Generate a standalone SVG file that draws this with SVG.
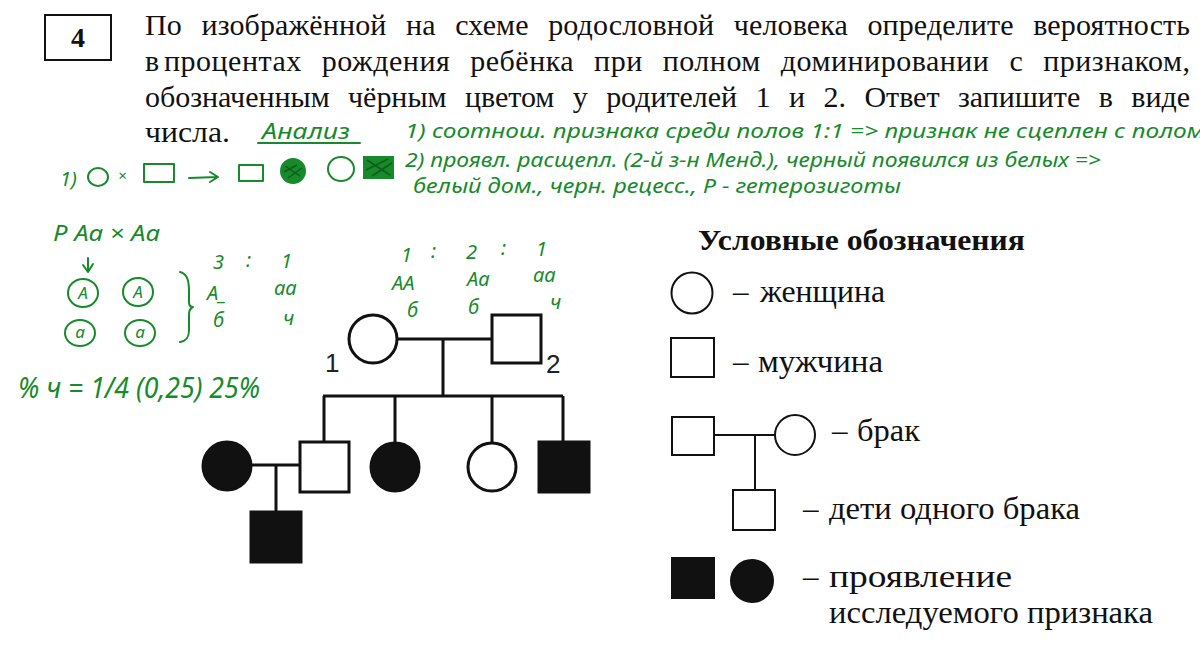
<svg xmlns="http://www.w3.org/2000/svg" width="1200" height="651" viewBox="0 0 1200 651">
<defs>
<style>
.q{font-family:"Liberation Serif","Times New Roman",serif;font-size:30px;fill:#111}
.lg{font-family:"Liberation Serif","Times New Roman",serif;font-size:31px;fill:#111}
.hw{font-family:"Noto Sans","Open Sans",sans-serif;font-style:italic;fill:#178a2c}
.s{font-size:20px}
.g{fill:none;stroke:#178a2c;stroke-width:2;stroke-linecap:round;stroke-linejoin:round}
.gf{fill:#178a2c;stroke:#178a2c;stroke-width:2}
.ped{stroke:#111;stroke-width:3;fill:#fff}
.pedf{stroke:#111;stroke-width:3;fill:#111}
.ln{stroke:#111;stroke-width:3;fill:none}
.leg{stroke:#111;stroke-width:2;fill:#fff}
.legf{stroke:#111;stroke-width:2;fill:#111}
.lgl{stroke:#111;stroke-width:2;fill:none}
.num{font-family:"Liberation Sans",Arial,sans-serif;font-size:26px;fill:#222}
</style>
</defs>
<rect width="1200" height="651" fill="#fff"/>

<g id="header">
<rect x="45" y="15" width="66" height="45" fill="#fff" stroke="#111" stroke-width="2"/>
<text x="78" y="47" text-anchor="middle" style="font-family:'Liberation Serif',serif;font-size:28px;font-weight:bold;fill:#111">4</text>
<text class="q" x="145" y="35" word-spacing="12" textLength="1045" lengthAdjust="spacing">По изображённой на схеме родословной человека определите вероятность</text>
<text class="q" x="145" y="71">в</text>
<text class="q" x="164" y="71" word-spacing="12" textLength="1026" lengthAdjust="spacing">процентах рождения ребёнка при полном доминировании с признаком,</text>
<text class="q" x="145" y="107" word-spacing="11" textLength="1045" lengthAdjust="spacing">обозначенным чёрным цветом у родителей 1 и 2. Ответ запишите в виде</text>
<text class="q" x="145" y="142" textLength="85" lengthAdjust="spacingAndGlyphs">числа.</text>
</g>

<g id="notes">
<text class="hw" x="262" y="139" font-size="21" textLength="88" lengthAdjust="spacingAndGlyphs">Анализ</text>
<path class="g" d="M258,143 L360,143"/>
<text class="hw" x="405" y="138" font-size="20" textLength="800" lengthAdjust="spacingAndGlyphs">1) соотнош. признака среди полов 1:1 =&gt; признак не сцеплен с полом</text>
<text class="hw" x="405" y="167" font-size="20" textLength="696" lengthAdjust="spacingAndGlyphs">2) проявл. расщепл. (2-й з-н Менд.), черный появился из белых =&gt;</text>
<text class="hw" x="413" y="193" font-size="20" textLength="488" lengthAdjust="spacingAndGlyphs">белый дом., черн. рецесс., Р - гетерозиготы</text>

<text class="hw" x="60" y="186" font-size="20">1)</text>
<ellipse class="g" cx="98" cy="177" rx="10" ry="9"/>
<text class="hw" x="118" y="181" font-size="15">×</text>
<rect class="g" x="144" y="164" width="30" height="18"/>
<path class="g" d="M189,178 L217,177 M210,172 L218,177 L210,182"/>
<rect class="g" x="239" y="165" width="24" height="16"/>
<circle class="gf" cx="293" cy="171" r="12"/>
<path d="M285,166 L300,176 M284,172 L297,165 M288,178 L302,168" stroke="#0c5e1a" stroke-width="1.5" fill="none"/>
<ellipse class="g" cx="341" cy="169" rx="13" ry="12"/>
<rect class="gf" x="364" y="157" width="29" height="21"/>
<path d="M367,160 L390,175 M366,170 L388,159 M372,176 L392,163" stroke="#0c5e1a" stroke-width="1.5" fill="none"/>

<text class="hw" x="53" y="241" font-size="21" textLength="107" lengthAdjust="spacingAndGlyphs">P Aa × Aa</text>
<path class="g" d="M88,258 L88,272 M83,265 L88,272 L93,264"/>
<ellipse class="g" cx="83" cy="293" rx="15" ry="14"/>
<ellipse class="g" cx="138" cy="292" rx="15" ry="14"/>
<ellipse class="g" cx="80" cy="333" rx="15" ry="13"/>
<ellipse class="g" cx="140" cy="333" rx="15" ry="13"/>
<text class="hw" x="83" y="299" font-size="17" text-anchor="middle">A</text>
<text class="hw" x="138" y="298" font-size="17" text-anchor="middle">A</text>
<text class="hw" x="80" y="338" font-size="17" text-anchor="middle">a</text>
<text class="hw" x="140" y="338" font-size="17" text-anchor="middle">a</text>
<path class="g" d="M180,272 C188,274 189,282 189,292 L189,302 C189,306 191,307 193,307 C191,308 189,310 189,314 L189,330 C189,338 186,341 180,342"/>

<text class="hw s" x="213" y="269">3</text>
<text class="hw s" x="246" y="267">:</text>
<text class="hw s" x="281" y="268">1</text>
<text class="hw s" x="207" y="300">А_</text>
<text class="hw s" x="274" y="295">aa</text>
<text class="hw s" x="213" y="327">б</text>
<text class="hw s" x="283" y="325">ч</text>

<text class="hw s" x="401" y="262">1</text>
<text class="hw s" x="431" y="258">:</text>
<text class="hw s" x="466" y="259">2</text>
<text class="hw s" x="501" y="255">:</text>
<text class="hw s" x="536" y="256">1</text>
<text class="hw s" x="392" y="290">AA</text>
<text class="hw s" x="467" y="286">Aa</text>
<text class="hw s" x="533" y="282">aa</text>
<text class="hw s" x="407" y="317">б</text>
<text class="hw s" x="468" y="314">б</text>
<text class="hw s" x="550" y="309">ч</text>

<text class="hw" x="18" y="398" font-size="29" textLength="242" lengthAdjust="spacingAndGlyphs">% ч = 1/4 (0,25) 25%</text>
</g>

<g id="connectors">
<path class="ln" d="M397,339 L492,339"/>
<path class="ln" d="M443,339 L443,396"/>
<path class="ln" d="M323,396 L563,396"/>
<path class="ln" d="M324,396 L324,442"/>
<path class="ln" d="M395,396 L395,443"/>
<path class="ln" d="M492,396 L492,443"/>
<path class="ln" d="M563,396 L563,442"/>
<path class="ln" d="M251,465 L300,465"/>
<path class="ln" d="M276,465 L276,512"/>
</g>

<g id="p1"><circle class="ped" cx="373" cy="339" r="24"/><text class="num" x="325" y="372">1</text></g>
<g id="p2"><rect class="ped" x="492" y="315" width="49" height="48"/><text class="num" x="546" y="373">2</text></g>
<g id="c1"><rect class="ped" x="300" y="442" width="49" height="50"/></g>
<g id="c2"><circle class="pedf" cx="395" cy="467" r="24"/></g>
<g id="c3"><circle class="ped" cx="492" cy="467" r="24"/></g>
<g id="c4"><rect class="pedf" x="539" y="442" width="50" height="50"/></g>
<g id="spouse"><circle class="pedf" cx="227" cy="466" r="24"/></g>
<g id="gc"><rect class="pedf" x="251" y="512" width="50" height="50"/></g>

<g id="legend">
<text x="698" y="250" textLength="327" lengthAdjust="spacingAndGlyphs" style="font-family:'Liberation Serif',serif;font-size:29px;font-weight:bold;fill:#111">Условные обозначения</text>
<g id="leg-woman"><circle class="leg" cx="692" cy="293" r="20.5"/><text class="lg" x="733" y="302">–</text><text class="lg" x="760" y="302" textLength="125" lengthAdjust="spacingAndGlyphs">женщина</text></g>
<g id="leg-man"><rect class="leg" x="671" y="338" width="43" height="39"/><text class="lg" x="733" y="372">–</text><text class="lg" x="758" y="372" textLength="125" lengthAdjust="spacingAndGlyphs">мужчина</text></g>
<g id="leg-marriage"><rect class="leg" x="672" y="417" width="42" height="38"/><circle class="leg" cx="795" cy="435" r="20"/><path class="lgl" d="M714,435 L775,435 M755,435 L755,490"/><text class="lg" x="832" y="441">–</text><text class="lg" x="857" y="441" textLength="63" lengthAdjust="spacingAndGlyphs">брак</text></g>
<g id="leg-children"><rect class="leg" x="733" y="490" width="42" height="40"/><text class="lg" x="803" y="519">–</text><text class="lg" x="829" y="519" textLength="251" lengthAdjust="spacingAndGlyphs">дети одного брака</text></g>
<g id="leg-trait"><rect class="legf" x="672" y="558" width="42" height="40"/><circle class="legf" cx="752" cy="581" r="21"/><text class="lg" x="803" y="587">–</text><text class="lg" x="829" y="587" textLength="183" lengthAdjust="spacingAndGlyphs">проявление</text><text class="lg" x="829" y="623" textLength="324" lengthAdjust="spacingAndGlyphs">исследуемого признака</text></g>
</g>
</svg>
